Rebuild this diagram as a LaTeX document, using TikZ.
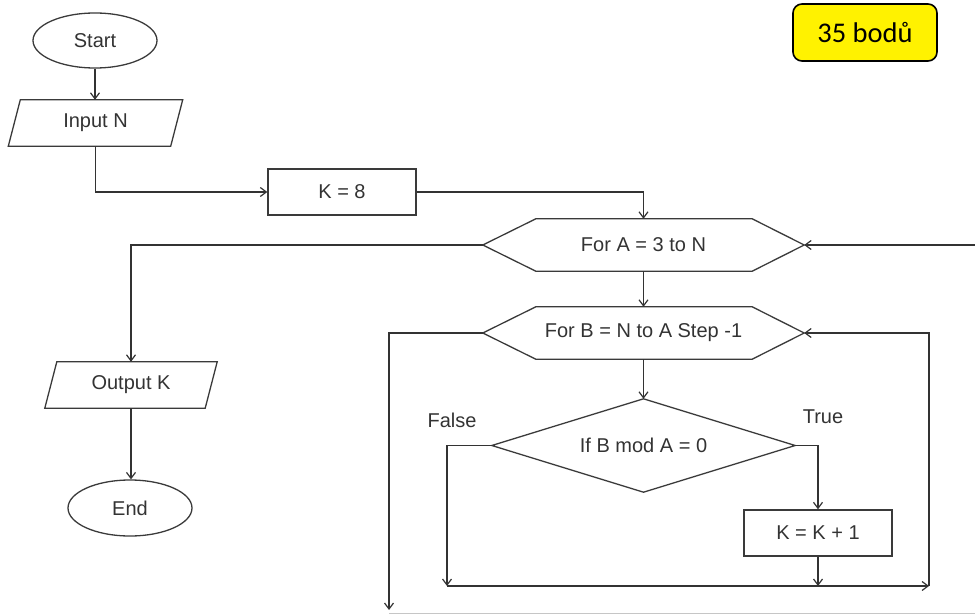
\documentclass[tikz,border=0pt]{standalone}
\usepackage{fontspec}
\setmainfont{Liberation Sans}
\newfontfamily\badgefont{Carlito}
\usetikzlibrary{shapes.geometric,arrows.meta,calc}
\definecolor{ln}{HTML}{333333}
\definecolor{sh}{HTML}{3A3A3A}
\begin{document}
\begin{tikzpicture}[x=1pt,y=-1pt,
  every node/.style={font=\fontsize{20}{24}\selectfont, text=ln},
  arr/.style={draw=ln, line width=1.4pt, -{Straight Barb[length=6pt,width=9pt,line width=1.2pt]}},
  plain/.style={draw=ln, line width=1.4pt},
  oval/.style={ellipse, draw=sh, line width=1.3pt, minimum width=124pt, minimum height=55pt, inner sep=0pt},
  boxn/.style={rectangle, draw=sh, line width=1.4pt, minimum width=148pt, minimum height=46pt, inner sep=0pt},
  ghost/.style={rectangle, inner sep=0pt},
  outline/.style={draw=sh, line width=1.3pt, line join=miter}
]
\useasboundingbox (0,0) rectangle (975,615);

% nodes
\node[oval] (start) at (95,40.5) {Start};
\node[ghost, minimum width=162pt, minimum height=46pt] (inp) at (95.5,123) {Input N};
\node[boxn] (k8) at (342,192) {K = 8};
\node[ghost, minimum width=321pt, minimum height=52pt] (forA) at (643.5,245) {For A = 3 to N};
\node[ghost, minimum width=321pt, minimum height=52pt] (forB) at (643.5,333) {For B = N to A Step -1};
\node[ghost, minimum width=160pt, minimum height=46pt] (outK) at (131,385) {Output K};
\node[oval, minimum height=56pt] (endn) at (130,508) {End};
\node[ghost, minimum width=303pt, minimum height=93pt] (cond) at (643.5,445.5) {If B mod A = 0};
\node[boxn] (inc) at (818,533) {K = K + 1};
\node (lfalse) at (452,420) {False};
\node (ltrue) at (823,417) {True};
\node[draw=black, line width=1.6pt, fill=yellow, rounded corners=9pt, minimum width=144pt, minimum height=57pt, inner sep=0pt, text=black, font=\badgefont\fontsize{28.5}{32}\selectfont] (badge) at (865,32.5) {35 bodů};

% outlines of the special shapes
\draw[outline] ([xshift=6pt]inp.north west) -- ([xshift=6pt]inp.north east) -- ([xshift=-6pt]inp.south east) -- ([xshift=-6pt]inp.south west) -- cycle;
\draw[outline] ([xshift=6pt]outK.north west) -- ([xshift=6pt]outK.north east) -- ([xshift=-6pt]outK.south east) -- ([xshift=-6pt]outK.south west) -- cycle;
\draw[outline] (forA.west) -- ([xshift=53pt]forA.north west) -- ([xshift=-52pt]forA.north east) -- (forA.east) -- ([xshift=-52pt]forA.south east) -- ([xshift=53pt]forA.south west) -- cycle;
\draw[outline] (forB.west) -- ([xshift=53pt]forB.north west) -- ([xshift=-52pt]forB.north east) -- (forB.east) -- ([xshift=-52pt]forB.south east) -- ([xshift=53pt]forB.south west) -- cycle;
\draw[outline] (cond.west) -- (cond.north) -- (cond.east) -- (cond.south) -- cycle;

% free ends
\coordinate (fj) at (447,586);
\coordinate (rj) at (929,586);
\coordinate (ex) at (389,610);
\coordinate (redge) at (975,245);

% connectors
\draw[arr] (start.south) -- (start.south |- inp.north);
\draw[arr] (inp.south) |- (k8.west);
\draw[arr] (k8.east) -| (forA.north);
\draw[arr] (forA.west) -| (outK.north);
\draw[arr] (outK.south) -- (outK.south |- endn.north);
\draw[arr] (forA.south) -- (forB.north);
\draw[arr] (forB.south) -- (cond.north);
\draw[arr] (cond.east) -| (inc.north);
\draw[arr] (cond.west) -| (fj);
\draw[arr] (inc.south) -- (inc.south |- fj);
\draw[arr] (fj) -- (rj);
\draw[arr] (rj) |- (forB.east);
\draw[arr] (forB.west) -| (ex);
\draw[arr] (redge) -- (forA.east);
\draw[draw=gray!45, line width=1pt] (389,613.5) -- (975,613.5);
\end{tikzpicture}
\end{document}
